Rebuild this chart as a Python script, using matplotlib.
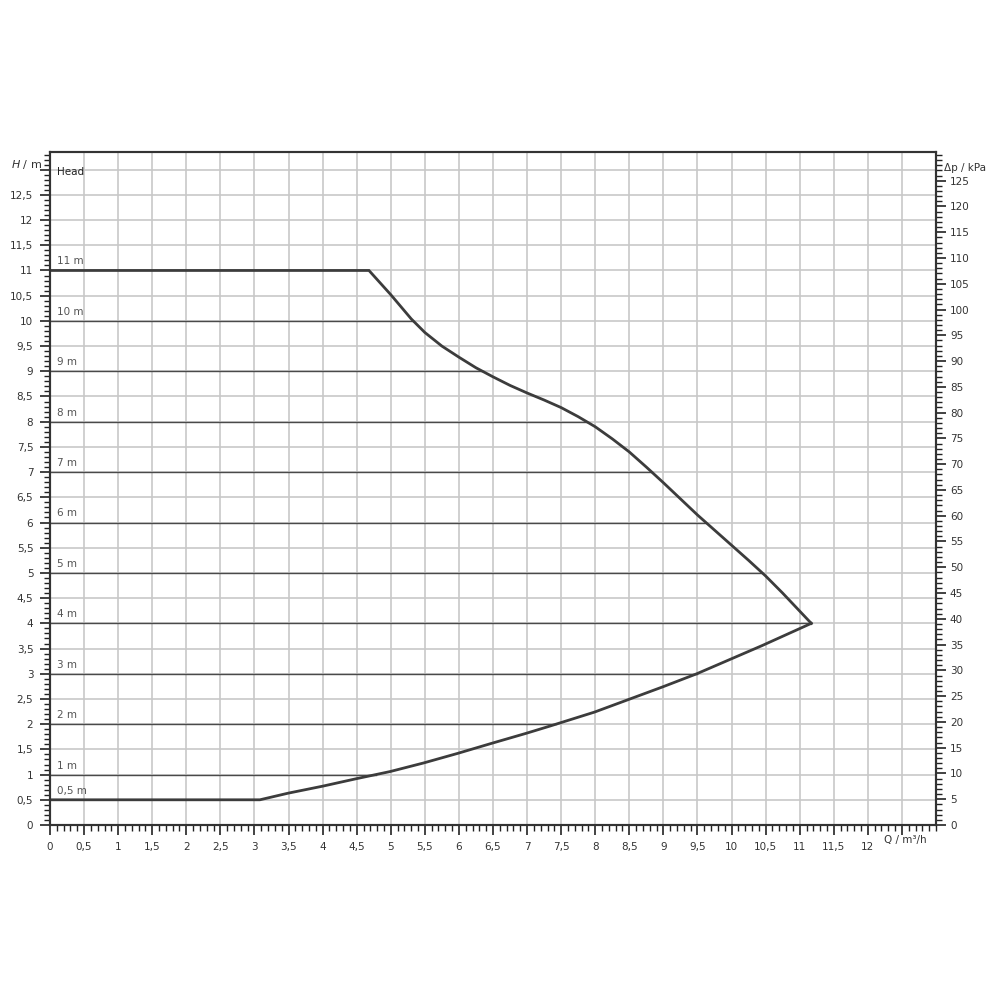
'''Kennlinie Pumpe - Förderhöhe über Förderstrom'''
import numpy as np
import matplotlib.pyplot as plt
from matplotlib.ticker import MultipleLocator, FuncFormatter

# Max-Kennlinie (Q in m³/h, H in m)
q_max = [0.0, 4.68, 5.0, 5.3, 5.5, 5.75, 6.0, 6.25, 6.5, 6.75, 7.0, 7.25, 7.5, 7.75, 8.0, 8.25,
         8.5, 8.75, 9.0, 9.25, 9.5, 9.75, 10.0, 10.25, 10.5, 10.75, 11.17]
h_max = [11.0, 11.0, 10.52, 10.04, 9.77, 9.5, 9.28, 9.07, 8.89, 8.72, 8.57, 8.43, 8.28, 8.1, 7.9, 7.66,
         7.4, 7.1, 6.79, 6.47, 6.15, 5.85, 5.55, 5.25, 4.94, 4.6, 4.0]

# Min-Kennlinie
q_min = [11.17, 10.45, 9.49, 8.99, 8.47, 7.99, 7.33, 6.99, 6.48, 5.98, 5.48, 4.99, 4.5, 4.0, 3.49, 3.08, 0.0]
h_min = [4.0, 3.56, 3.0, 2.74, 2.48, 2.24, 1.96, 1.82, 1.62, 1.42, 1.23, 1.06, 0.92, 0.77, 0.63, 0.5, 0.5]

# Förderhöhen-Linien
hoehen = [1, 2, 3, 4, 5, 6, 7, 8, 9, 10, 11]
labels_hoehe = ['1 m', '2 m', '3 m', '4 m', '5 m', '6 m', '7 m', '8 m', '9 m', '10 m', '11 m']

x_ticks = [0, 0.5, 1, 1.5, 2, 2.5, 3, 3.5, 4, 4.5, 5, 5.5, 6, 6.5, 7, 7.5, 8, 8.5, 9, 9.5, 10, 10.5, 11, 11.5, 12]
y_ticks = [0, 0.5, 1, 1.5, 2, 2.5, 3, 3.5, 4, 4.5, 5, 5.5, 6, 6.5, 7, 7.5, 8, 8.5, 9, 9.5, 10, 10.5, 11, 11.5, 12, 12.5]
kpa_ticks = list(range(0, 130, 5))

KPA_PRO_M = 9.78
Y_MAX = 13.35
X_MAX = 13.0

dunkel = '#3c3c3c'
text_farbe = '#333333'
grau = '#c8c8c8'

fig = plt.figure(figsize=(10, 10), dpi=100)
ax = fig.add_axes([0.05, 0.175, 0.886, 0.673])
ax.set_xlim(0, X_MAX)
ax.set_ylim(0, Y_MAX)

# Gitter
for gx in np.arange(0.5, X_MAX, 0.5):
    ax.axvline(gx, color=grau, lw=1.2, zorder=1)
for gy in np.arange(0.5, 13.01, 0.5):
    ax.axhline(gy, color=grau, lw=1.2, zorder=1)

# Höhenlinien bis zur Kennlinie
q_min_r = q_min[::-1]
h_min_r = h_min[::-1]
for h, lab in zip(hoehen, labels_hoehe):
    if h < 4:
        q_end = np.interp(h, h_min_r, q_min_r)
    else:
        q_end = np.interp(h, h_max[::-1], q_max[::-1])
    ax.plot([0, q_end], [h, h], color='#4a4a4a', lw=1.0, zorder=2)
    ax.text(0.1, h + 0.08, lab, fontsize=7.5, color='#555555', va='bottom', ha='left')
ax.text(0.1, 0.58, '0,5 m', fontsize=7.5, color='#555555', va='bottom', ha='left')

# Kennlinie
ax.plot(q_max, h_max, color=dunkel, lw=2.0, zorder=3, solid_joinstyle='miter')
ax.plot(q_min, h_min, color=dunkel, lw=2.0, zorder=3, solid_joinstyle='miter')

komma = FuncFormatter(lambda v, p: ('%g' % v).replace('.', ','))

ax.set_xticks(x_ticks + [12.5])
ax.set_xticklabels([komma(v, None) for v in x_ticks] + [''])
ax.xaxis.set_minor_locator(MultipleLocator(0.1))
ax.set_yticks(y_ticks + [13])
ax.set_yticklabels([komma(v, None) for v in y_ticks] + [''])
ax.yaxis.set_minor_locator(MultipleLocator(0.1))
ax.tick_params(which='major', direction='out', length=7, width=1.2, color='#222222',
               labelsize=7.5, labelcolor=text_farbe, pad=5)
ax.tick_params(which='minor', direction='out', length=4, width=1.0, color='#222222')

ax2 = ax.twinx()
ax2.set_ylim(0, Y_MAX * KPA_PRO_M)
ax2.set_yticks(kpa_ticks)
ax2.yaxis.set_minor_locator(MultipleLocator(1))
ax2.tick_params(which='major', direction='out', length=7, width=1.2, color='#222222',
                labelsize=7.5, labelcolor=text_farbe, pad=3)
ax2.tick_params(which='minor', direction='out', length=4, width=1.0, color='#222222')

for a in (ax, ax2):
    for s in a.spines.values():
        s.set_color('#333333')
        s.set_linewidth(1.5)

# Achsenbeschriftungen
ax.text(-0.12, 13.1, r'$H$ / m', fontsize=8, color=text_farbe, ha='right', va='center')
ax.text(0.1, 12.95, 'Head', fontsize=7.5, color='#222222', ha='left', va='center')
ax.text(12.55, -0.19, 'Q / m³/h', fontsize=7.5, color=text_farbe, ha='center', va='top')
ax2.text(X_MAX + 0.12, 127.5, 'Δp / kPa', fontsize=7.5, color=text_farbe, ha='left', va='center')

fig.savefig('out.png', dpi=100, facecolor='white')
